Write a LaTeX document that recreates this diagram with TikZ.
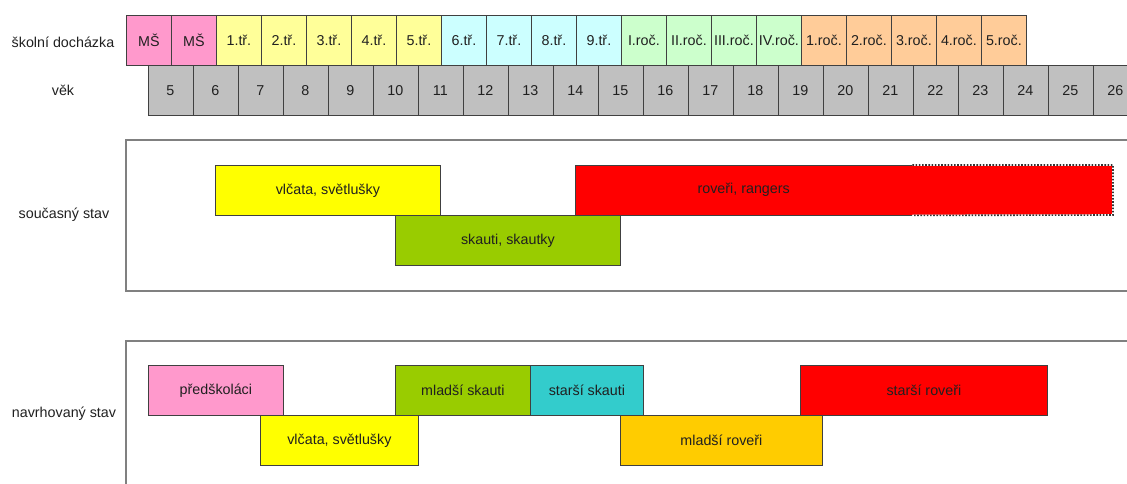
\documentclass[tikz,border=0pt]{standalone}
\usepackage{fontspec}
\setmainfont{Liberation Sans}
\definecolor{msPink}{HTML}{FF99CC}
\definecolor{lYellow}{HTML}{FFFF99}
\definecolor{lCyan}{HTML}{CCFFFF}
\definecolor{lGreen}{HTML}{CCFFCC}
\definecolor{lOrange}{HTML}{FFCC99}
\definecolor{cellGray}{HTML}{C0C0C0}
\definecolor{bYellow}{HTML}{FFFF00}
\definecolor{bGreen}{HTML}{99CC00}
\definecolor{bRed}{HTML}{FF0000}
\definecolor{bTeal}{HTML}{33CCCC}
\definecolor{bGold}{HTML}{FFCC00}
\definecolor{edge}{HTML}{404040}
\definecolor{frame}{HTML}{808080}
\definecolor{txt}{HTML}{202020}
\tikzset{
  every node/.style={font=\fontsize{14.3}{16}\selectfont, text=txt},
  cell/.style={draw=edge, line width=0.8pt, minimum width=45pt, minimum height=50pt, inner sep=0pt, anchor=north west},
  agecell/.style={cell, fill=cellGray},
  grp/.style={draw=edge, line width=0.8pt, minimum height=50pt, inner sep=0pt, anchor=north west},
  panel/.style={draw=frame, line width=1.5pt},
  lbl/.style={inner sep=0pt}
}
\begin{document}
\begin{tikzpicture}[x=1pt, y=-1pt]
\useasboundingbox (0,0) rectangle (1127,483);
\clip (0,0) rectangle (1127,483);
% row labels
\node[lbl] (lschool) at (63,42) {školní docházka};
\node[lbl] (lage) at (63,90) {věk};
\node[lbl] (lcur) at (64,215) {současný stav};
\node[lbl] (lnew) at (64,414) {navrhovaný stav};
% school row
\foreach \t [count=\i from 0] in {MŠ,MŠ} {
  \node[cell, fill=msPink] (s\i) at (126+45*\i,15) {\t};
}
\foreach \t [count=\i from 2] in {1.tř.,2.tř.,3.tř.,4.tř.,5.tř.} {
  \node[cell, fill=lYellow] (s\i) at (126+45*\i,15) {\t};
}
\foreach \t [count=\i from 7] in {6.tř.,7.tř.,8.tř.,9.tř.} {
  \node[cell, fill=lCyan] (s\i) at (126+45*\i,15) {\t};
}
\foreach \t [count=\i from 11] in {I.roč.,II.roč.,III.roč.,IV.roč.} {
  \node[cell, fill=lGreen] (s\i) at (126+45*\i,15) {\t};
}
\foreach \t [count=\i from 15] in {1.roč.,2.roč.,3.roč.,4.roč.,5.roč.} {
  \node[cell, fill=lOrange] (s\i) at (126+45*\i,15) {\t};
}
% age row
\foreach \a in {5,...,26} {
  \node[agecell] (a\a) at (147.5+45*\a-225,65) {\a};
}
% panel 1: current state
\draw[panel] (1140,140) -- (126,140) -- (126,291) -- (1140,291);
\node[grp, fill=bYellow, minimum width=225pt] (cvl) at (215,165) {vlčata, světlušky};
\node[grp, fill=bGreen, minimum width=225pt] (csk) at (395,215) {skauti, skautky};
\fill[bRed] (575,165) rectangle (1113,215);
\node[inner sep=0pt, minimum height=50pt, minimum width=337pt, anchor=north west] (crov) at (575,165) {roveři, rangers};
\draw[edge, line width=0.8pt] (crov.north east) -- (crov.north west) -- (crov.south west) -- (crov.south east);
\draw[white, line width=1.6pt] (crov.north east) -- (1113,165) -- (1113,215) -- (crov.south east);
\draw[black!80, line width=1.6pt, dash pattern=on 1.6pt off 1.6pt] (crov.north east) -- (1113,165) -- (1113,215) -- (crov.south east);
% panel 2: proposed state
\draw[panel] (1140,341) -- (126,341) -- (126,490);
\node[grp, fill=msPink, minimum width=135pt] (npr) at (148,365) {předškoláci};
\node[grp, fill=bYellow, minimum width=158pt] (nvl) at (260,415) {vlčata, světlušky};
\node[grp, fill=bGreen, minimum width=135pt] (nml) at (395,365) {mladší skauti};
\node[grp, fill=bTeal, minimum width=113pt] (nst) at (530,365) {starší skauti};
\node[grp, fill=bGold, minimum width=202pt] (nmr) at (620,415) {mladší roveři};
\node[grp, fill=bRed, minimum width=247pt] (nsr) at (800,365) {starší roveři};
\end{tikzpicture}
\end{document}
